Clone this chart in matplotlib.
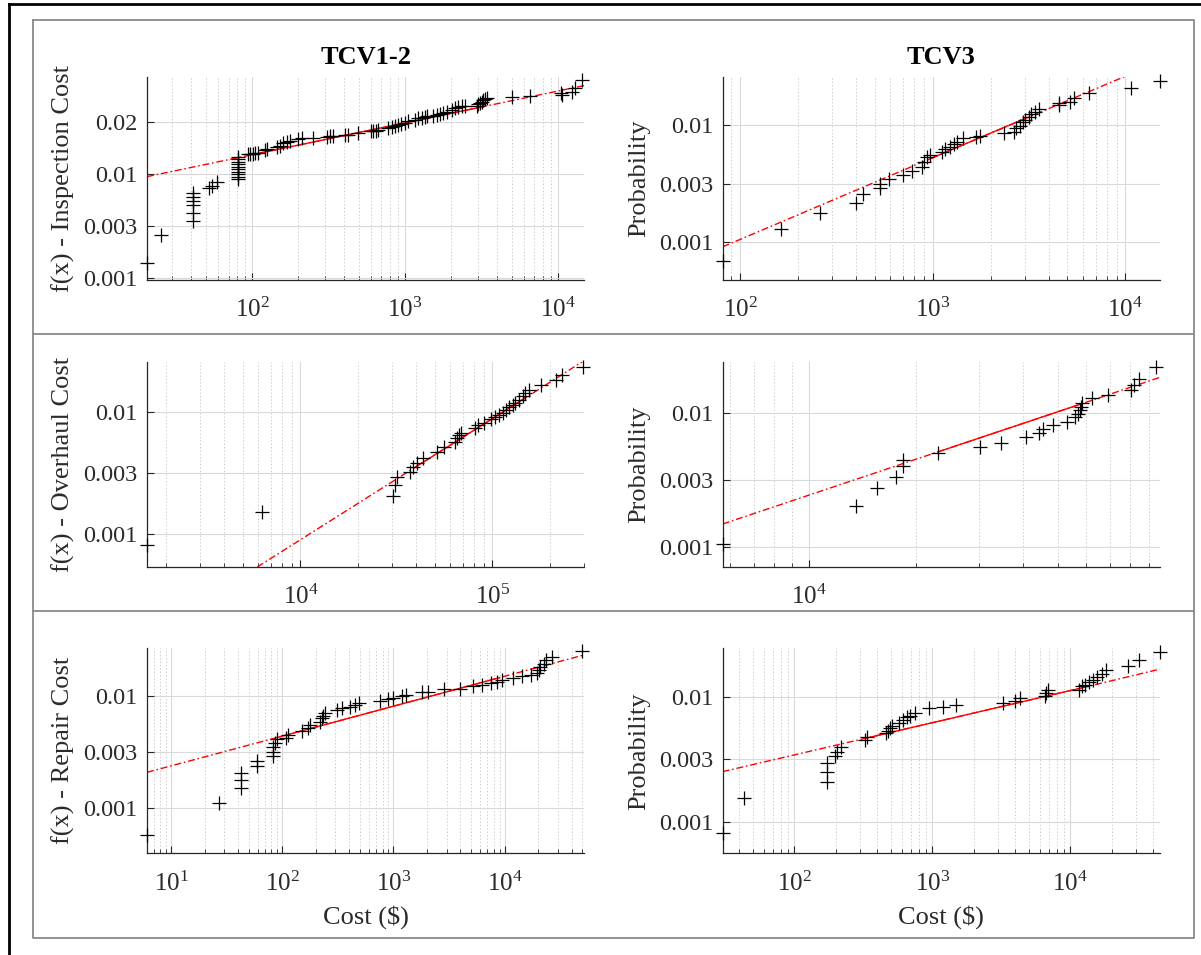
import numpy as np
import matplotlib
matplotlib.use("Agg")
import matplotlib.pyplot as plt
from matplotlib.ticker import LogLocator, NullFormatter, LogFormatterSciNotation
from matplotlib.lines import Line2D

plt.rcParams["font.family"] = ["Liberation Serif", "DejaVu Serif"]
plt.rcParams["mathtext.fontset"] = "custom"
plt.rcParams["mathtext.rm"] = "Liberation Serif"
plt.rcParams["mathtext.default"] = "regular"

# probability ticks of the y axis (equally spaced on the plot)
p_ticks = [0.001, 0.003, 0.01, 0.02]

# ---- TCV1-2, inspection cost ----
tl_x = [20.5, 25.3, 40.9, 40.9, 40.9, 40.9, 40.9, 40.9, 52.1, 54.5, 59.2,
        80.8, 80.8, 80.8, 80.8, 80.8, 80.8, 80.8, 80.8, 80.8, 80.8,
        94, 97, 101, 105, 109, 121, 125, 145, 151, 160, 168, 177, 200, 211, 251,
        307, 323, 340, 405, 425, 495, 597, 621, 646, 668, 778, 818, 859, 902,
        948, 998, 1047, 1161, 1221, 1285, 1352, 1400, 1531, 1611, 1694, 1782,
        1875, 2018, 2122, 2232, 2348, 2468, 2944, 3020, 3097, 3177, 3252, 3337,
        3420, 4990, 6580, 10430, 10700, 12300, 13000, 14500]
tl_p = [0.00136, 0.00247, 0.00336, 0.00402, 0.00488, 0.00535, 0.00592, 0.0065,
        0.00719, 0.00759, 0.00826,
        0.00887, 0.00943, 0.01002, 0.01034, 0.01071, 0.01105, 0.01145, 0.0118,
        0.0122, 0.0126,
        0.0130, 0.0131, 0.0131, 0.0132, 0.0133, 0.0138, 0.0139, 0.0144, 0.0145,
        0.0152, 0.0154, 0.0156, 0.0160, 0.0161, 0.0163,
        0.0165, 0.0166, 0.0166, 0.0169, 0.0169, 0.0173, 0.0177, 0.0178, 0.0179,
        0.0180, 0.0186, 0.0189, 0.0191, 0.0193,
        0.0196, 0.0199, 0.0203, 0.0206, 0.0211, 0.0213, 0.0216, 0.0218, 0.0218,
        0.0221, 0.0223, 0.0227,
        0.0229, 0.0236, 0.0241, 0.0245, 0.0248, 0.0250, 0.0250, 0.0254, 0.0258,
        0.0264, 0.0269, 0.0273,
        0.0278, 0.0280, 0.0286, 0.0297, 0.0288, 0.0301, 0.0315, 0.0352]
tl_fit_x = [20.5, 100, 3300, 14900]
tl_fit_p = [0.00943, 0.01296, 0.02473, 0.0327]

# ---- TCV3, inspection cost ----
tr_x = [81, 163, 259, 398, 432, 533, 533, 589, 699, 776, 875, 896, 937, 971,
        1122, 1163, 1228, 1284, 1343, 1436, 1683, 1758, 2354, 2636, 2697, 2823,
        2952, 3021, 3160, 3230, 3380, 3581, 4525, 4525, 5140, 5420, 6490, 10640,
        15100]
tr_p = [0.00071, 0.00129, 0.00174, 0.0021, 0.00247, 0.00274, 0.003, 0.00327,
        0.00357, 0.0039, 0.00423, 0.00469, 0.00513, 0.00537,
        0.00575, 0.00616, 0.00638, 0.00673, 0.00706, 0.00757, 0.00772, 0.00799,
        0.00838, 0.00867, 0.00929, 0.00973,
        0.01036, 0.01056, 0.011, 0.01134, 0.01166, 0.012, 0.0126, 0.013, 0.0131,
        0.0138, 0.0146, 0.0155, 0.0168]
tr_fit_x = [81, 950, 3000, 9950]
tr_fit_p = [0.00092, 0.00492, 0.01075, 0.0177]

# ---- TCV1-2, overhaul cost ----
ml_x = [1588, 6300, 30270, 31190, 31900, 37170, 38800, 40550, 43290, 51520,
        56230, 64100, 65500, 66950, 68400, 81500, 84000, 90800, 98200, 103500,
        108100, 112900, 117900, 122200, 127600, 131600, 137400, 143500, 148000,
        154600, 178500, 215400, 229000, 297000]
ml_p = [0.00081, 0.00147, 0.00198, 0.0024, 0.00279, 0.00306, 0.00338, 0.00365,
        0.00403, 0.00454,
        0.00501, 0.00553, 0.0059, 0.0063, 0.0066, 0.0072, 0.00768, 0.00805,
        0.00859, 0.00894,
        0.0094, 0.0098, 0.0102, 0.0105, 0.0108, 0.0111, 0.0114, 0.0119, 0.0123,
        0.0128, 0.0135, 0.0144, 0.0152, 0.0167]
ml_fit_x = [5960, 40000, 150000, 301000]
ml_fit_p = [0.00055, 0.00338, 0.01178, 0.0179]

# ---- TCV3, overhaul cost ----
mr_x = [5730, 13550, 15570, 17580, 18370, 18370, 23010, 30250, 34580, 40640,
        44360, 45490, 48600, 52950, 55850, 57000, 57700, 58100, 58400, 62400,
        69200, 80400, 81600, 84400, 94400]
mr_p = [0.00105, 0.00196, 0.00262, 0.00319, 0.00385, 0.00429, 0.00489, 0.00538,
        0.00584, 0.00651,
        0.00699, 0.00742, 0.00802, 0.00851, 0.0092, 0.0098, 0.0103, 0.0106,
        0.011, 0.0116,
        0.012, 0.0126, 0.0133, 0.0142, 0.0161]
mr_fit_x = [5730, 23000, 58400, 96700]
mr_fit_p = [0.00146, 0.00495, 0.01097, 0.0144]

# ---- TCV1-2, repair cost ----
bl_x = [6.08, 27, 43, 43, 43, 59.6, 59.6, 82.8, 82.8, 82.8, 86, 89, 108, 112,
        151, 169, 176, 220, 229, 234, 241, 309, 346, 403, 451, 486, 762, 887,
        993, 1197, 1291, 1812, 2030, 2846, 3990, 5200, 6270, 7570, 8470, 9490,
        11900, 14350, 17330, 19410, 20150, 20900, 22550, 23770, 26800, 49700]
bl_p = [0.00059, 0.00112, 0.00148, 0.00174, 0.00201, 0.0023, 0.00255, 0.0028,
        0.00304, 0.00334, 0.00364, 0.00397, 0.0041, 0.00436,
        0.00478, 0.00503, 0.0054, 0.0058, 0.00623, 0.00655, 0.00704, 0.00745,
        0.00773, 0.008, 0.0083, 0.0086, 0.0091, 0.0094,
        0.0096, 0.01004, 0.0102, 0.0105, 0.0106, 0.0109, 0.011, 0.0114, 0.0115,
        0.0118, 0.012, 0.01225,
        0.0126, 0.0128, 0.013, 0.0133, 0.0139, 0.0144, 0.015, 0.0157, 0.0162,
        0.0176]
bl_fit_x = [6.08, 90, 9000, 52000]
bl_fit_p = [0.00203, 0.00413, 0.0126, 0.0167]

# ---- TCV3, repair cost ----
br_x = [30.3, 43.5, 172.6, 172.6, 172.6, 198, 205, 218, 327, 338, 462, 477,
        492, 508, 576, 613, 653, 695, 754, 951, 1199, 1475, 3273, 3954, 4290,
        6560, 6650, 6870, 11480, 12080, 12860, 13690, 14570, 15510, 17050,
        18160, 26400, 31300, 44500]
br_p = [0.00082, 0.00153, 0.00203, 0.00242, 0.0028, 0.00321, 0.00349, 0.00385,
        0.00438, 0.00467, 0.00498, 0.00525,
        0.00548, 0.00574, 0.00605, 0.00645, 0.00679, 0.00697, 0.00743, 0.00808,
        0.00835, 0.00862, 0.009, 0.0094, 0.0098,
        0.0101, 0.0105, 0.0108, 0.0109, 0.0113, 0.0115, 0.0119, 0.0122, 0.0126,
        0.013, 0.0136, 0.0142, 0.0151, 0.0166]
br_fit_x = [30.3, 330, 12000, 44500]
br_fit_p = [0.00242, 0.00453, 0.0111, 0.0137]

LOGT = np.log10(p_ticks)
POS = np.arange(len(p_ticks), dtype=float)


def fwd(p):
    lp = np.log10(np.clip(np.asarray(p, dtype=float), 1e-12, None))
    u = np.interp(lp, LOGT, POS)
    u = np.where(lp < LOGT[0], (lp - LOGT[0]) / (LOGT[1] - LOGT[0]), u)
    u = np.where(lp > LOGT[-1], POS[-1] + (lp - LOGT[-1]) / (LOGT[-1] - LOGT[-2]), u)
    return u


def inv(u):
    u = np.asarray(u, dtype=float)
    lp = np.interp(u, POS, LOGT)
    lp = np.where(u < POS[0], LOGT[0] + u * (LOGT[1] - LOGT[0]), lp)
    lp = np.where(u > POS[-1], LOGT[-1] + (u - POS[-1]) * (LOGT[-1] - LOGT[-2]), lp)
    return 10 ** lp


W, H = 1201, 955
fig = plt.figure(figsize=(W / 100, H / 100), dpi=100)

panels = [
    # x, p, fit_x, fit_p, xlim, ylim, ylabel, title, xlabel, box(px)
    (tl_x, tl_p, tl_fit_x, tl_fit_p, (20.5, 14900), (0.000953, 0.0368),
     "f(x) - Inspection Cost", "TCV1-2", None, (147, 76.7, 584.3, 280)),
    (tr_x, tr_p, tr_fit_x, tr_fit_p, (81, 15100), (0.000495, 0.01765),
     "Probability", "TCV3", None, (722.6, 76.7, 1159.8, 280)),
    (ml_x, ml_p, ml_fit_x, ml_fit_p, (1588, 301000), (0.000553, 0.01753),
     "f(x) - Overhaul Cost", None, None, (147, 362.3, 584.3, 566.7)),
    (mr_x, mr_p, mr_fit_x, mr_fit_p, (5730, 96700), (0.000727, 0.01682),
     "Probability", None, None, (722.6, 362.3, 1159.8, 566.7)),
    (bl_x, bl_p, bl_fit_x, bl_fit_p, (6.08, 52000), (0.000415, 0.01811),
     "f(x) - Repair Cost", None, "Cost ($)", (147, 648.3, 584.3, 853.3)),
    (br_x, br_p, br_fit_x, br_fit_p, (30.3, 44500), (0.000571, 0.01729),
     "Probability", None, "Cost ($)", (722.6, 648.3, 1159.8, 853.3)),
]

axis_col = "#262626"
text_col = "#2a2a2a"

for x, p, fx, fp, xlim, ylim, ylab, title, xlab, box in panels:
    l, t, r, b = box
    ax = fig.add_axes([l / W, 1 - b / H, (r - l) / W, (b - t) / H])
    ax.set_xscale("log")
    ax.set_yscale("function", functions=(fwd, inv))

    ax.plot(fx, fp, color="red", lw=1.0, ls=(0, (5, 2, 1.2, 2)), zorder=2)
    ax.plot(fx[1:3], fp[1:3], color="red", lw=1.0, ls="-", zorder=2)
    ax.plot(x, p, ls="none", marker="+", ms=9.5, mew=0.9, color="black",
            clip_on=False, zorder=3)

    ax.set_yticks(p_ticks, [f"{v:g}" for v in p_ticks])
    ax.xaxis.set_major_locator(LogLocator(base=10))
    ax.xaxis.set_minor_locator(LogLocator(base=10, subs=np.arange(2, 10)))
    ax.xaxis.set_major_formatter(LogFormatterSciNotation())
    ax.xaxis.set_minor_formatter(NullFormatter())
    # limits after the ticks, so the ticks do not widen the view
    ax.set_xlim(*xlim)
    ax.set_ylim(*ylim)

    ax.grid(True, which="major", color="#d9d9d9", lw=0.8, ls="-")
    ax.grid(True, which="minor", axis="x", color="#cfcfcf", lw=0.7, ls=(0, (1.5, 2)))
    ax.set_axisbelow(True)

    for s in ["top", "right"]:
        ax.spines[s].set_visible(False)
    for s in ["left", "bottom"]:
        ax.spines[s].set_color(axis_col)
        ax.spines[s].set_linewidth(0.9)

    ax.tick_params(which="both", direction="in", colors=axis_col, labelcolor=text_col)
    ax.tick_params(which="major", length=5, width=0.8)
    ax.tick_params(which="minor", length=3, width=0.6)
    ax.tick_params(axis="x", which="major", labelsize=18, pad=13)
    ax.tick_params(axis="y", which="major", labelsize=17.5, pad=7)

    ax.set_ylabel(ylab, fontsize=19, color=text_col, labelpad=6)
    if title:
        ax.set_title(title, fontsize=19, fontweight="bold", pad=9)
    if xlab:
        ax.set_xlabel(r"Cost (\$)", fontsize=19, color=text_col, labelpad=7)


def fig_line(xs, ys, **kw):
    fig.add_artist(Line2D([v / W for v in xs], [1 - v / H for v in ys],
                          transform=fig.transFigure, **kw))


# outer black border
fig_line([8.5, 8.5], [4, 955], color="black", lw=2.0)
fig_line([8.5, 1201], [4, 4], color="black", lw=2.0)
# grey panel box and row separators
box_kw = dict(color="#8a8a8a", lw=1.3)
fig_line([32.7, 1194.3, 1194.3, 32.7, 32.7], [20, 20, 938.3, 938.3, 20], **box_kw)
fig_line([32.7, 1194.3], [333.7, 333.7], **box_kw)
fig_line([32.7, 1194.3], [611, 611], **box_kw)

fig.savefig("out.png", dpi=100)
